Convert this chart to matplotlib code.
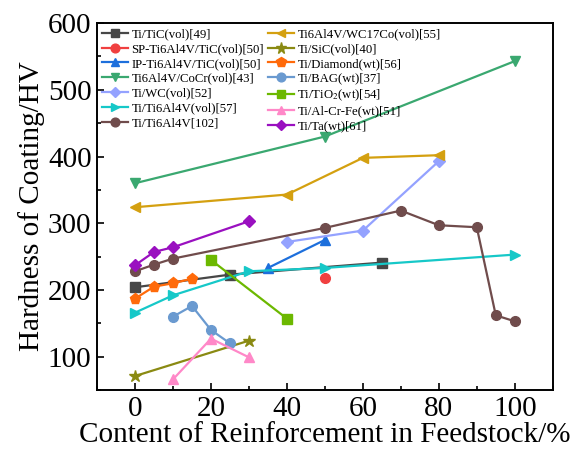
import matplotlib
matplotlib.use('Agg')
import matplotlib.pyplot as plt
from matplotlib.ticker import MultipleLocator

plt.rcParams['font.family'] = ['Liberation Serif', 'DejaVu Serif']
plt.rcParams['mathtext.fontset'] = 'stix'

# content (%) and hardness (HV) per series
tic_x = [0, 25, 65]
tic_y = [204, 223, 241]
sp_x = [50]
sp_y = [218]
ip_x = [35, 50]
ip_y = [233, 275]
cocr_x = [0, 50, 100]
cocr_y = [360, 430, 543]
wc_x = [40, 60, 80]
wc_y = [272, 289, 393]
ti64v_x = [0, 10, 30, 50, 100]
ti64v_y = [166, 192, 228, 233, 253]
ti64_x = [0, 5, 10, 50, 70, 80, 90, 95, 100]
ti64_y = [228, 238, 247, 293, 319, 297, 294, 162, 153]
wc17_x = [0, 40, 60, 80]
wc17_y = [324, 343, 398, 402]
sic_x = [0, 30]
sic_y = [71, 124]
dia_x = [0, 5, 10, 15]
dia_y = [187, 205, 210, 217]
bag_x = [10, 15, 20, 25]
bag_y = [160, 176, 140, 120]
tio2_x = [20, 40]
tio2_y = [245, 157]
acf_x = [10, 20, 30]
acf_y = [66, 127, 99]
ta_x = [0, 5, 10, 30]
ta_y = [237, 257, 264, 303]

fig, ax = plt.subplots(figsize=(5.71, 4.53), dpi=100)
fig.subplots_adjust(left=0.17, right=0.968, bottom=0.139, top=0.949)

kw = dict(lw=1.6, ms=7)
ax.plot(tic_x, tic_y, 's-', color='#474747', label='Ti/TiC(vol)[49]', **kw)
ax.plot(sp_x, sp_y, 'o-', color='#f04040', label='SP-Ti6Al4V/TiC(vol)[50]', **kw)
ax.plot(ip_x, ip_y, '^-', color='#1d6fdc', label='IP-Ti6Al4V/TiC(vol)[50]', **kw)
ax.plot(cocr_x, cocr_y, 'v-', color='#3aa870', label='Ti6Al4V/CoCr(vol)[43]', **kw)
ax.plot(wc_x, wc_y, 'D-', color='#94a2ff', label='Ti/WC(vol)[52]', lw=1.6, ms=6)
ax.plot(ti64v_x, ti64v_y, '>-', color='#16c8c8', label='Ti/Ti6Al4V(vol)[57]', **kw)
ax.plot(ti64_x, ti64_y, 'o-', color='#704c4c', label='Ti/Ti6Al4V[102]', **kw)
ax.plot(wc17_x, wc17_y, '<-', color='#d4a010', label='Ti6Al4V/WC17Co(vol)[55]', **kw)
ax.plot(sic_x, sic_y, '*-', color='#8a8a12', label='Ti/SiC(vol)[40]', lw=1.6, ms=9)
ax.plot(dia_x, dia_y, 'p-', color='#ff6a0a', label='Ti/Diamond(wt)[56]', lw=1.6, ms=8)
ax.plot(bag_x, bag_y, 'o-', color='#6a9ad0', label='Ti/BAG(wt)[37]', **kw)
ax.plot(tio2_x, tio2_y, 's-', color='#6cb800', label='Ti/TiO$_2$(wt)[54]', **kw)
ax.plot(acf_x, acf_y, '^-', color='#ff88c8', label='Ti/Al-Cr-Fe(wt)[51]', **kw)
ax.plot(ta_x, ta_y, 'D-', color='#9a10c0', label='Ti/Ta(wt)[61]', lw=1.6, ms=6)

ax.set_xlim(-10, 110)
ax.set_ylim(50, 600)
ax.xaxis.set_major_locator(MultipleLocator(20))
ax.xaxis.set_minor_locator(MultipleLocator(10))
ax.yaxis.set_major_locator(MultipleLocator(100))
ax.yaxis.set_minor_locator(MultipleLocator(50))
ax.tick_params(which='both', direction='in', labelsize=21, pad=4)
ax.tick_params(which='major', length=5, width=1.2)
ax.tick_params(which='minor', length=3, width=1.2)
for s in ax.spines.values():
    s.set_linewidth(1.4)

ax.set_xlabel('Content of Reinforcement in Feedstock/%', fontsize=21, labelpad=0)
ax.set_ylabel('Hardness of Coating/HV', fontsize=21, labelpad=2)

ax.legend(ncol=2, loc='upper left', frameon=False, fontsize=9.2,
          handlelength=2.0, handletextpad=0.3, columnspacing=0.3,
          labelspacing=0.22, borderaxespad=0.0, borderpad=0.4,
          markerscale=0.9)

fig.savefig('out.png', dpi=100)
